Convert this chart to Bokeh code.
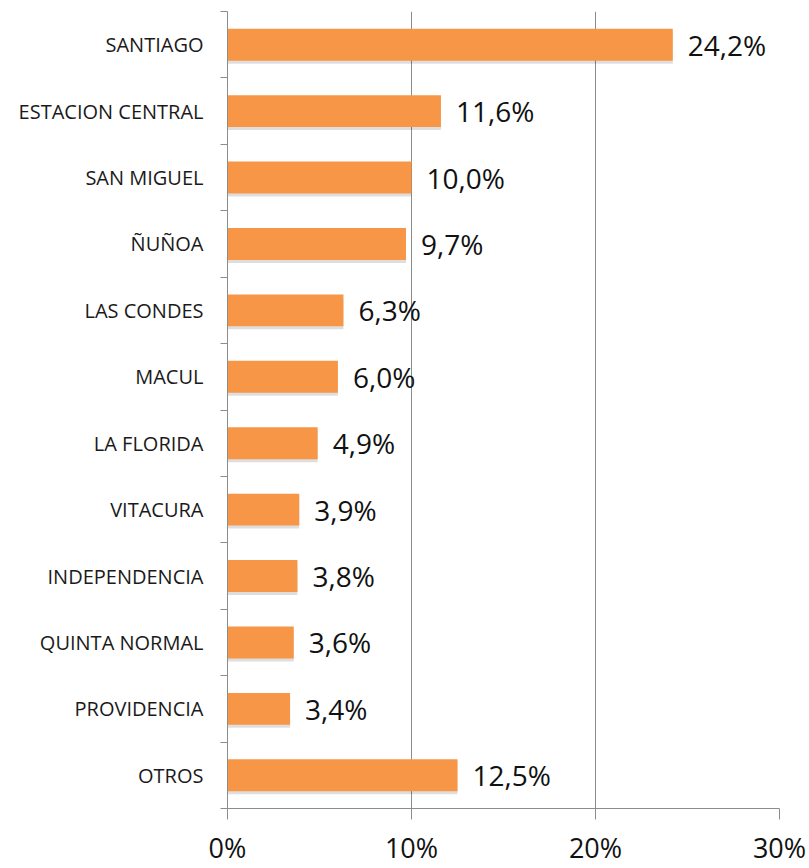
from bokeh.plotting import figure
from bokeh.models import Range1d, FixedTicker, ColumnDataSource
from bokeh.core.properties import value
from bokeh.embed import file_html
from bokeh.resources import INLINE

# ---- data ----
comunas = ["SANTIAGO", "ESTACION CENTRAL", "SAN MIGUEL", "ÑUÑOA", "LAS CONDES",
           "MACUL", "LA FLORIDA", "VITACURA", "INDEPENDENCIA", "QUINTA NORMAL",
           "PROVIDENCIA", "OTROS"]
porcentajes = [24.2, 11.6, 10.0, 9.7, 6.3, 6.0, 4.9, 3.9, 3.8, 3.6, 3.4, 12.5]
x_ticks = [0, 10, 20, 30]
x_tick_labels = ["0%", "10%", "20%", "30%"]

n = len(comunas)
centers = [n - i - 0.5 for i in range(n)]
boundaries = list(range(n + 1))
labels = [f"{v:.1f}".replace(".", ",") + "%" for v in porcentajes]

src = ColumnDataSource(dict(y=centers, v=porcentajes, lab=labels,
                            ys=[c - 0.045 for c in centers]))

BAR = "#F79646"
GRAY = "#8C8C8C"
FONT = "Open Sans"

p = figure(width=809, height=868, output_backend="svg", toolbar_location=None,
           x_range=Range1d(0, 30), y_range=Range1d(0, n),
           min_border_left=227, min_border_right=30, min_border_top=11,
           min_border_bottom=54)
p.outline_line_color = None
p.background_fill_color = "white"
p.border_fill_color = "white"

# grid
p.ygrid.grid_line_color = None
p.xgrid.ticker = FixedTicker(ticks=x_ticks)
p.xgrid.grid_line_color = GRAY
p.xgrid.grid_line_width = 1

# shadow + bars
p.hbar(y="ys", right="v", left=0, height=0.48, source=src,
       fill_color="#000000", fill_alpha=0.13, line_color=None)
p.hbar(y="y", right="v", left=0, height=0.48, source=src,
       fill_color=BAR, line_color=None)

# value labels
p.text(x="v", y="y", text="lab", source=src, x_offset=15,
       text_baseline="middle", text_align="left",
       text_font=value(FONT), text_font_size="28px", text_color="#111111")

# y axis
ya = p.yaxis[0]
ya.ticker = FixedTicker(ticks=centers, minor_ticks=boundaries)
ya.major_label_overrides = {c: name for c, name in zip(centers, comunas)}
ya.major_tick_line_color = None
ya.major_tick_out = 0
ya.major_tick_in = 0
ya.minor_tick_line_color = GRAY
ya.minor_tick_out = 7
ya.minor_tick_in = 0
ya.axis_line_color = GRAY
ya.major_label_standoff = 17
ya.major_label_text_font = FONT
ya.major_label_text_font_size = "20px"
ya.major_label_text_color = "#1a1a1a"

# x axis
xa = p.xaxis[0]
xa.ticker = FixedTicker(ticks=x_ticks)
xa.major_label_overrides = {t: l for t, l in zip(x_ticks, x_tick_labels)}
xa.axis_line_color = GRAY
xa.major_tick_line_color = GRAY
xa.major_tick_out = 11
xa.major_tick_in = 0
xa.minor_tick_line_color = None
xa.major_label_standoff = 9
xa.major_label_text_font = FONT
xa.major_label_text_font_size = "27px"
xa.major_label_text_color = "#111111"

open("out.html", "w").write(file_html(p, INLINE))
